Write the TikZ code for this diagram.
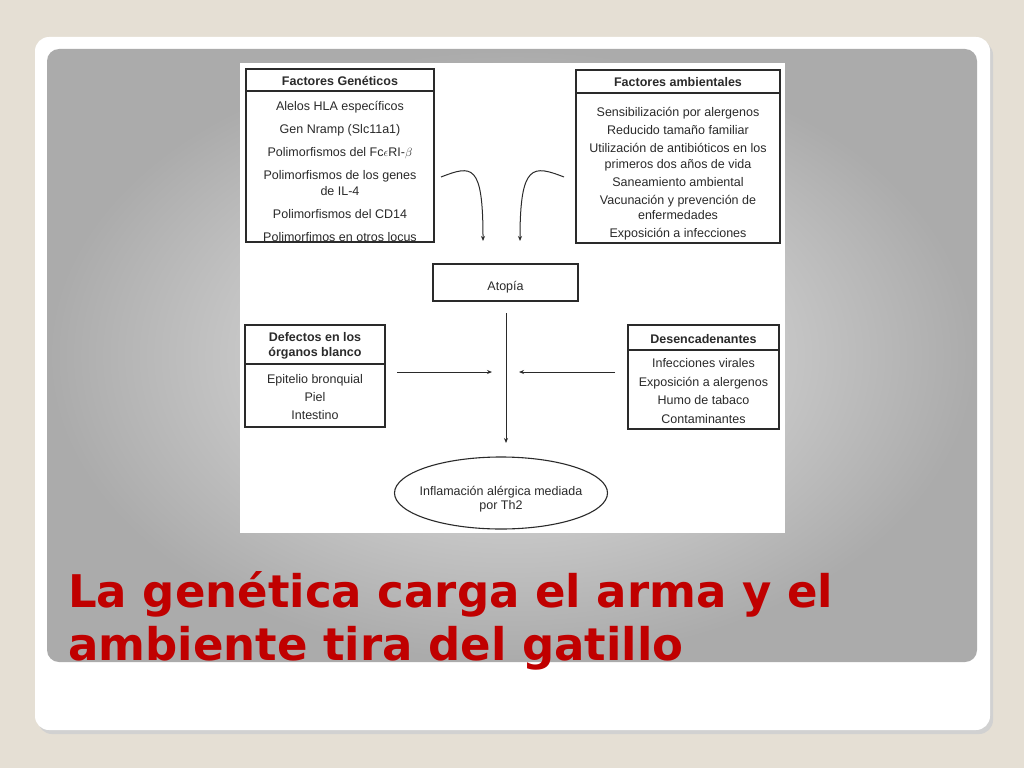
\documentclass[tikz,border=0pt]{standalone}
\usepackage{fontspec}
\setmainfont{Liberation Sans}
\newfontfamily\titlefont{DejaVu Sans}
\usetikzlibrary{arrows.meta,shapes.geometric}
\definecolor{bgbeige}{HTML}{E5DFD4}
\definecolor{titlered}{HTML}{C00000}
\definecolor{inkc}{HTML}{2A2A2A}
\tikzset{
  frame/.style={draw=inkc,line width=1.1pt},
  sep/.style={draw=inkc,line width=1.1pt},
  txt/.style={text=inkc,inner sep=0pt,align=center,font=\fontsize{12.5}{16}\selectfont},
  hdr/.style={text=inkc,inner sep=0pt,align=center,font=\fontsize{12.5}{15}\selectfont\bfseries},
  conn/.style={draw=inkc,line width=1pt,-{Stealth[length=5pt,width=4pt]}},
}
\begin{document}
\begin{tikzpicture}[x=1pt,y=-1pt]
\useasboundingbox (0,0) rectangle (1024,768);
\fill[bgbeige] (0,0) rectangle (1024,768);
% card shadow and card
\fill[black!18,rounded corners=14pt] (38,41) rectangle (993,734);
\fill[white,rounded corners=14pt] (35,37) rectangle (990,730);
% gray panel
\shade[rounded corners=12pt,inner color=black!8,outer color=black!33] (47,49) rectangle (977,662);
% diagram white area
\fill[white] (240,63) rectangle (785,533);

% Factores geneticos
\draw[frame] (246,69) rectangle (434,242);
\draw[sep] (246,91) -- (434,91);
\node[hdr] (gh) at (340,81) {Factores Genéticos};
\node[txt] (gb) at (340,171) {Alelos HLA específicos\\[7pt]Gen Nramp (Slc11a1)\\[7pt]Polimorfismos del Fc$\epsilon$RI-$\beta$\\[7pt]Polimorfismos de los genes\\de IL-4\\[7pt]Polimorfismos del CD14\\[7pt]Polimorfimos en otros locus};

% Factores ambientales
\draw[frame] (576,70) rectangle (780,243);
\draw[sep] (576,93) -- (780,93);
\node[hdr] (ah) at (678,82) {Factores ambientales};
\node[txt,font=\fontsize{12.5}{15.5}\selectfont] (ab) at (678,174) {Sensibilización por alergenos\\[2.5pt]Reducido tamaño familiar\\[2.5pt]Utilización de antibióticos en los\\primeros dos años de vida\\[2.5pt]Saneamiento ambiental\\[2.5pt]Vacunación y prevención de\\enfermedades\\[2.5pt]Exposición a infecciones};

% Atopia
\node[frame,minimum width=145pt,minimum height=37pt,inner sep=0pt] (at) at (505.5,282.5) {};
\node[text=inkc,inner sep=0pt,font=\fontsize{12.5}{15}\selectfont] (att) at (505.5,287) {Atopía};

% Defectos
\draw[frame] (245,325) rectangle (385,427);
\draw[sep] (245,364) -- (385,364);
\node[hdr] (dh) at (315,346) {Defectos en los\\órganos blanco};
\node[txt,font=\fontsize{12.5}{18}\selectfont] (db) at (315,397) {Epitelio bronquial\\Piel\\Intestino};

% Desencadenantes
\draw[frame] (628,325) rectangle (779,429);
\draw[sep] (628,350) -- (779,350);
\node[hdr] (eh) at (703.5,339) {Desencadenantes};
\node[txt,font=\fontsize{12.5}{18.5}\selectfont] (eb) at (703.5,391) {Infecciones virales\\Exposición a alergenos\\Humo de tabaco\\Contaminantes};

% Ellipse
\node[ellipse,draw=inkc,line width=1.1pt,minimum width=213pt,minimum height=72pt,inner sep=0pt] (inf) at (501,493) {};
\node[text=inkc,inner sep=0pt,align=center,font=\fontsize{12.5}{14.5}\selectfont] (inft) at (501,499) {Inflamación alérgica mediada\\por Th2};

% connectors
\coordinate (gl) at (441,177);
\coordinate (gt) at (483,241);
\coordinate (al) at (564,177);
\coordinate (atip) at (520,241);
\draw[conn] (gl) .. controls (472,165) and (483,163) .. (gt);
\draw[conn] (al) .. controls (533,165) and (520,163) .. (atip);
\coordinate (vtop) at (506,313);
\coordinate (vbot) at (506,443);
\draw[conn] (vtop) -- (vbot);
\coordinate (lt) at (397,372);
\coordinate (lh) at (492,372);
\draw[conn] (lt) -- (lh);
\coordinate (rt) at (615,372);
\coordinate (rh) at (519,372);
\draw[conn] (rt) -- (rh);

% title
\node[anchor=base west,inner sep=0pt,text=titlered,font=\titlefont\fontsize{45}{53}\selectfont\bfseries,align=left] (title) at (68,660) {La genética carga el arma y el\\ambiente tira del gatillo};
\end{tikzpicture}
\end{document}
